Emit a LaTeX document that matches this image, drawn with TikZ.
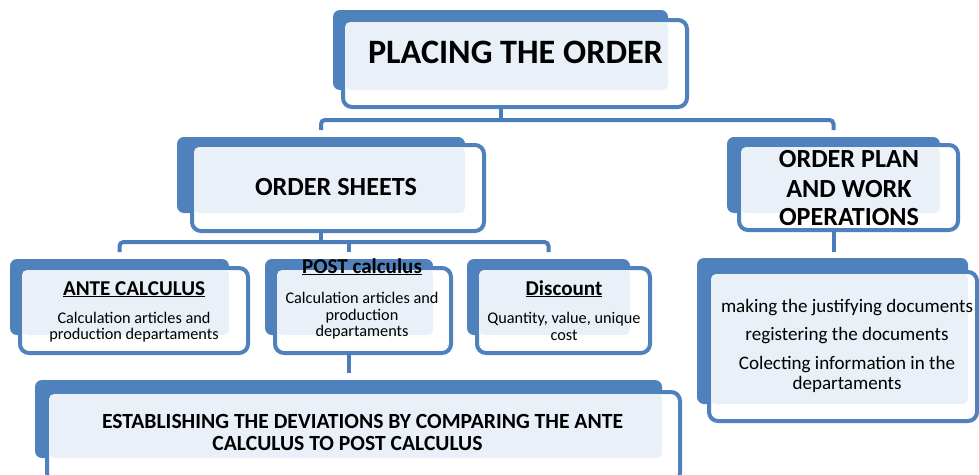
\documentclass[tikz,border=0pt]{standalone}
\usepackage{fontspec}
\setmainfont{Carlito}
\usetikzlibrary{calc}
\definecolor{boxblue}{HTML}{4F81BD}
\definecolor{lineblue}{HTML}{4A7DBA}
\definecolor{lightfill}{HTML}{EAF0F8}
\newcommand\fitsize[4]{\setbox0=\hbox{#3\fontsize{10pt}{12pt}\selectfont #4}\edef\fitw{\the\wd0}\pgfmathsetmacro#1{10*#2/\fitw}}
\newcommand\dblbox[9]{%
 \node[backbox, minimum width={#4-#2}, minimum height={#5-#3}] (#1B) at ({(#2+#4)/2},{(#3+#5)/2}) {};
 \node[frontbox, minimum width={#8-#6}, minimum height={#9-#7}] (#1F) at ({(#6+#8)/2},{(#7+#9)/2}) {};
 \fill[lightbox] ([shift={(2,2)}]#1F.north west) rectangle (#1B.south east);
}
\begin{document}
\fitsize\szT{295}{\bfseries}{PLACING THE ORDER}%
\fitsize\szS{162}{\bfseries}{ORDER SHEETS}%
\fitsize\szP{140}{\bfseries}{OPERATIONS}%
\fitsize\szH{142}{\bfseries}{ANTE CALCULUS}%
\fitsize\szB{153}{}{Calculation articles and}%
\fitsize\szR{252}{}{making the justifying documents}%
\fitsize\szE{521}{\bfseries}{ESTABLISHING THE DEVIATIONS BY COMPARING THE ANTE}%
\begin{tikzpicture}[x=1pt,y=-1pt,
  backbox/.style={fill=boxblue, draw=none, rounded corners=7pt, inner sep=0pt, outer sep=0pt},
  frontbox/.style={fill=white, draw=boxblue, line width=4pt, rounded corners=9pt, inner sep=0pt, outer sep=0pt},
  lightbox/.style={fill=lightfill, rounded corners=5pt},
  conn/.style={draw=lineblue, line width=4pt, rounded corners=4pt},
  lbl/.style={anchor=base, inner sep=0pt, text=black},
  ttl/.style={lbl, font=\bfseries\fontsize{\szT}{\szT}\selectfont},
  sht/.style={lbl, font=\bfseries\fontsize{\szS}{\szS}\selectfont},
  pln/.style={lbl, font=\bfseries\fontsize{\szP}{\szP}\selectfont},
  hdg/.style={lbl, font=\bfseries\fontsize{\szH}{\szH}\selectfont},
  bdy/.style={lbl, font=\fontsize{\szB}{\szB}\selectfont},
  rgt/.style={lbl, font=\fontsize{\szR}{\szR}\selectfont},
  est/.style={lbl, font=\bfseries\fontsize{\szE}{\szE}\selectfont},
 ]
\useasboundingbox (0,0) rectangle (979,474);
\fill[white] (0,0) rectangle (979,474);

% boxes: name, back x1 y1 x2 y2, front x1 y1 x2 y2
\dblbox{title}{333}{10}{668}{90}{343}{20}{687}{107}
\dblbox{sheets}{177}{137}{465}{213}{192}{145}{484}{231}
\dblbox{plan}{727}{137}{940}{213}{739}{145}{958}{230}
\dblbox{ante}{10}{259}{229}{335}{20}{268}{248}{353}
\dblbox{post}{265}{259}{433}{335}{275}{268}{451}{353}
\dblbox{disc}{467}{259}{630}{335}{477}{268}{650}{353}
\dblbox{right}{697}{258}{968}{404}{709}{272}{977}{421}
\dblbox{est}{35}{380}{662}{458}{47}{392}{680}{482}

% texts
\node[ttl] (tTitle) at (515.5,63) {PLACING THE ORDER};
\node[sht] (tSheets) at (336,195) {ORDER SHEETS};
\node[pln] (tPlan1) at (849,167) {ORDER PLAN};
\node[pln] (tPlan2) at (849,197) {AND WORK};
\node[pln] (tPlan3) at (849,225) {OPERATIONS};
\node[hdg] (tAnte) at (134,295) {\underline{ANTE CALCULUS}};
\node[bdy] (tAnte1) at (134,323) {Calculation articles and};
\node[bdy] (tAnte2) at (134,339) {production departaments};
\node[hdg] (tPost) at (362,273) {\underline{POST calculus}};
\node[bdy] (tPost1) at (362,303) {Calculation articles and};
\node[bdy] (tPost2) at (362,320) {production};
\node[bdy] (tPost3) at (362,336) {departaments};
\node[hdg] (tDisc) at (564,295) {\underline{Discount}};
\node[bdy] (tDisc1) at (564,323) {Quantity, value, unique};
\node[bdy] (tDisc2) at (564,340) {cost};
\node[rgt] (tR1) at (847,312) {making the justifying documents};
\node[rgt] (tR2) at (847,340) {registering the documents};
\node[rgt] (tR3) at (847,369) {Colecting information in the};
\node[rgt] (tR4) at (847,389) {departaments};
\node[est] (tEst1) at (362.5,428) {ESTABLISHING THE DEVIATIONS BY COMPARING THE ANTE};
\node[est] (tEst2) at (347.5,450) {CALCULUS TO POST CALCULUS};

% connectors
\draw[conn] (titleB.south |- titleF.south) -- ++(0,13) coordinate (j1);
\draw[conn, shorten <=7pt, shorten >=7pt] (sheetsB.north) |- (j1) -| (planB.north);
\draw[conn] (sheetsB.south |- sheetsF.south) -- ++(0,11) coordinate (j2);
\draw[conn, shorten <=7pt, shorten >=7pt] (anteB.north) |- (j2) -| (discB.north);
\draw[conn, shorten >=7pt] (j2 -| postB.north) -- (postB.north);
\draw[conn, shorten >=6pt] (planB.south |- planF.south) -- (planB.south |- rightB.north);
\draw[conn, shorten >=7pt] (postB.south |- postF.south) -- (postB.south |- estB.north);
\end{tikzpicture}
\end{document}
